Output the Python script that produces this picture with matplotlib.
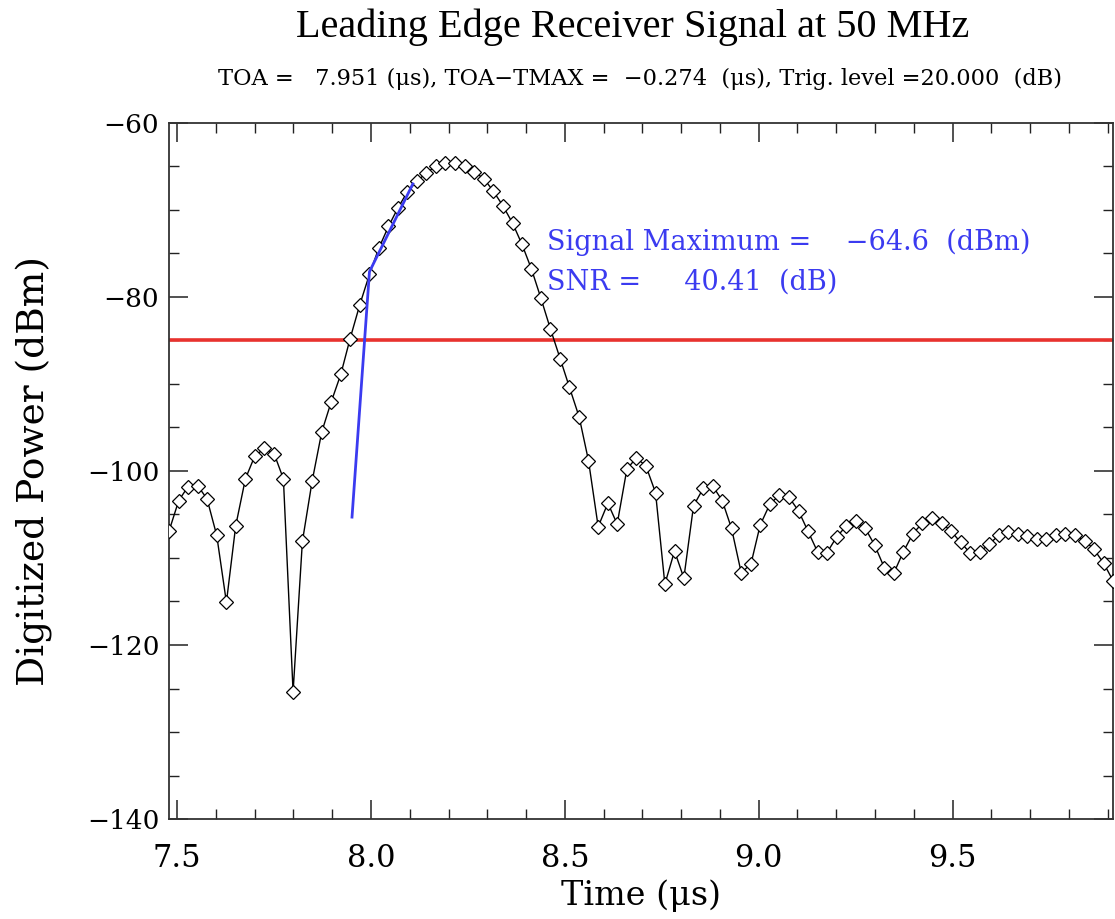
import matplotlib
matplotlib.use("Agg")
import matplotlib.pyplot as plt
from matplotlib.ticker import MultipleLocator

# ---- data ----
time_us = [7.479, 7.504, 7.528, 7.553, 7.577, 7.602, 7.627, 7.651, 7.676, 7.700,
           7.725, 7.750, 7.774, 7.799, 7.823, 7.848, 7.873, 7.897, 7.922, 7.946,
           7.971, 7.996, 8.020, 8.045, 8.069, 8.094, 8.119, 8.143, 8.168, 8.192,
           8.217, 8.242, 8.266, 8.291, 8.315, 8.340, 8.365, 8.389, 8.414, 8.438,
           8.463, 8.488, 8.512, 8.537, 8.561, 8.586, 8.611, 8.635, 8.660, 8.684,
           8.709, 8.734, 8.758, 8.783, 8.807, 8.832, 8.857, 8.881, 8.906, 8.930,
           8.955, 8.980, 9.004, 9.029, 9.053, 9.078, 9.103, 9.127, 9.152, 9.176,
           9.201, 9.226, 9.250, 9.275, 9.299, 9.324, 9.349, 9.373, 9.398, 9.422,
           9.447, 9.472, 9.496, 9.521, 9.545, 9.570, 9.595, 9.619, 9.644, 9.668,
           9.693, 9.718, 9.742, 9.767, 9.791, 9.816, 9.841, 9.865, 9.890, 9.914]

power_dbm = [-106.9, -103.4, -101.8, -101.7, -103.2, -107.4, -115.1, -106.3, -100.9, -98.3,
             -97.4, -98.0, -100.9, -125.4, -108.1, -101.2, -95.5, -92.1, -88.9, -84.8,
             -80.9, -77.4, -74.4, -71.9, -69.8, -67.9, -66.7, -65.7, -65.0, -64.6,
             -64.6, -64.9, -65.6, -66.4, -67.8, -69.5, -71.5, -73.9, -76.8, -80.1,
             -83.7, -87.1, -90.4, -93.8, -98.8, -106.4, -103.7, -106.1, -99.8, -98.5,
             -99.4, -102.5, -113.0, -109.2, -112.3, -104.0, -102.0, -101.7, -103.4, -106.6,
             -111.7, -110.7, -106.2, -103.8, -102.8, -103.0, -104.6, -106.9, -109.3, -109.4,
             -107.6, -106.3, -105.8, -106.6, -108.5, -111.1, -111.7, -109.3, -107.2, -106.0,
             -105.4, -106.0, -106.9, -108.2, -109.4, -109.3, -108.4, -107.4, -107.0, -107.2,
             -107.5, -107.8, -107.8, -107.4, -107.2, -107.4, -108.0, -109.0, -110.6, -112.6]

fit_time_us = [7.951, 7.996, 8.108]
fit_power_dbm = [-105.3, -77.1, -67.0]

trigger_level_dbm = -85.0

title_text = "Leading Edge Receiver Signal at 50 MHz"
subtitle_text = "TOA =   7.951 (\u03bcs), TOA\u2212TMAX =  \u22120.274  (\u03bcs), Trig. level =20.000  (dB)"
sigmax_text = "Signal Maximum =    \u221264.6  (dBm)"
snr_text = "SNR =     40.41  (dB)"
xlabel_text = "Time (\u03bcs)"
ylabel_text = "Digitized Power (dBm)"

# ---- figure ----
fig = plt.figure(figsize=(11.15, 9.19), dpi=100)
ax = fig.add_axes([0.1516, 0.1088, 0.8466, 0.7574])

ax.plot(time_us, power_dbm, color="black", lw=1.0, marker="D", markersize=7,
        markerfacecolor="white", markeredgecolor="black", markeredgewidth=0.9, zorder=3)
ax.axhline(trigger_level_dbm, color="#e8322e", lw=2.6, zorder=2)
ax.plot(fit_time_us, fit_power_dbm, color="#3b3bf0", lw=2.0, zorder=4)

ax.set_xlim(time_us[0], time_us[-1])
ax.set_ylim(-140, -60)
ax.xaxis.set_major_locator(MultipleLocator(0.5))
ax.xaxis.set_minor_locator(MultipleLocator(0.1))
ax.yaxis.set_major_locator(MultipleLocator(20))
ax.yaxis.set_minor_locator(MultipleLocator(5))
ax.xaxis.set_major_formatter(matplotlib.ticker.FormatStrFormatter("%.1f"))
ax.yaxis.set_major_formatter(matplotlib.ticker.FuncFormatter(lambda v, p: ("\u2212%d" % abs(v)) if v < 0 else "%d" % v))

ax.tick_params(which="both", direction="in", top=True, right=True, color="#222222")
ax.tick_params(which="major", length=14, width=1.1)
ax.tick_params(which="minor", length=7, width=1.0)
ax.tick_params(axis="x", which="major", pad=17, labelsize=22)
ax.tick_params(axis="y", which="major", pad=7, labelsize=19)
for lab in ax.get_xticklabels() + ax.get_yticklabels():
    lab.set_fontfamily("DejaVu Serif")
for s in ax.spines.values():
    s.set_linewidth(1.3)
    s.set_color("#333333")

ax.set_xlabel(xlabel_text, fontsize=24, family="DejaVu Serif", labelpad=4)
ax.set_ylabel(ylabel_text, fontsize=27, family="DejaVu Serif", labelpad=24)

ax.text(8.455, -73.7, sigmax_text, color="#3b3bf0", fontsize=19.5, family="DejaVu Serif",
        va="center", ha="left")
ax.text(8.455, -78.3, snr_text, color="#3b3bf0", fontsize=19.5, family="DejaVu Serif",
        va="center", ha="left")

fig.text(0.567, 0.970, title_text, fontsize=29, family="Liberation Serif", ha="center", va="center")
fig.text(0.574, 0.914, subtitle_text, fontsize=16.2, family="DejaVu Serif", ha="center", va="center")

fig.savefig("out.png", dpi=100, facecolor="white")
